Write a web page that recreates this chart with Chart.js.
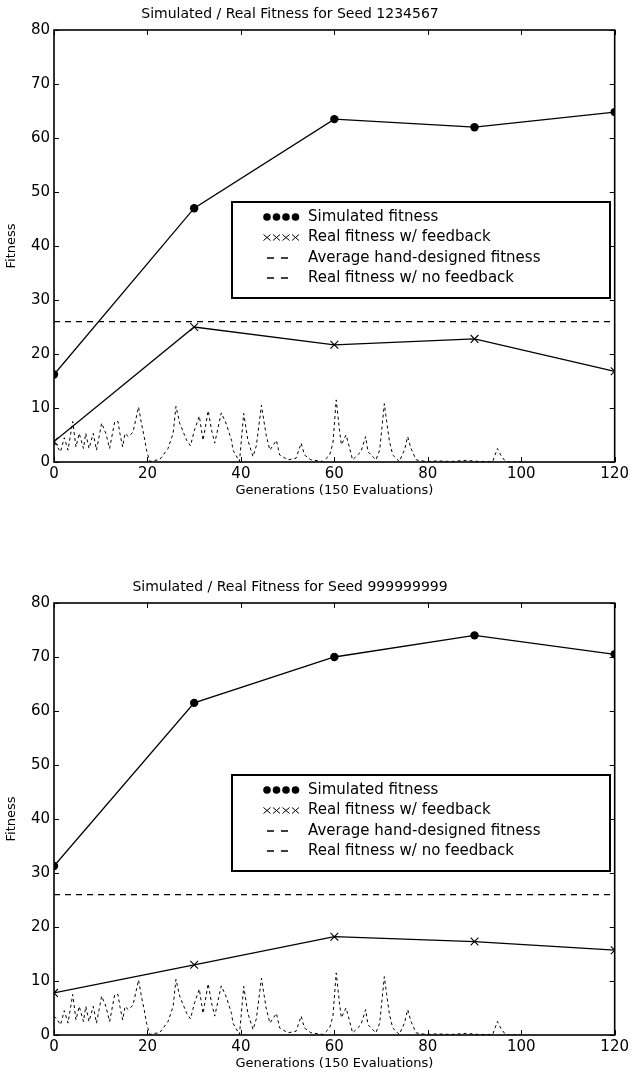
<!DOCTYPE html>
<html>
<head>
<meta charset="utf-8">
<script src="https://cdn.jsdelivr.net/npm/chart.js@4.4.0/dist/chart.umd.min.js"></script>
<style>
  body { margin: 0; background: #fff; }
  .box { position: absolute; left: 0; width: 632px; height: 500px; }
</style>
</head>
<body>
<div class="box" style="top:0"><canvas id="chart1"></canvas></div>
<div class="box" style="top:573px"><canvas id="chart2"></canvas></div>
<script>
// values
const generations = [0, 30, 60, 90, 120];
const simulated1 = [16.2, 47, 63.5, 62, 64.8];
const feedback1 = [3.8, 25, 21.7, 22.8, 16.8];
const simulated2 = [31.3, 61.5, 70, 74, 70.5];
const feedback2 = [7.8, 13, 18.2, 17.3, 15.7];
const handDesigned = 26;

// real fitness with no feedback (same trace in both plots)
const noFeedbackGens = [0, 0.7, 1.4, 2.2, 3.0, 4.0, 4.7, 5.4, 6.3, 6.8, 7.5, 8.4, 9.1, 10.2, 11.1,
  11.9, 13.0, 13.7, 14.1, 14.7, 15.2, 15.9, 16.9, 18.1, 18.7, 19.3, 19.8, 20.5, 21.5, 22.6,
  24.4, 25.5, 26.1, 26.9, 28.4, 29.2, 30.1, 31.1, 31.9, 33.0, 33.7, 34.4, 35.8, 36.9, 38.0,
  38.3, 39.7, 40.6, 41.5, 42.6, 43.3, 44.4, 45.4, 46.2, 47.6, 48.3, 50.1, 51.8, 52.9, 53.6,
  55.0, 57.6, 59.0, 59.7, 60.4, 61.1, 61.5, 62.5, 63.2, 63.9, 65.7, 66.7, 67.2, 68.9, 69.7,
  70.7, 71.2, 71.8, 72.5, 73.9, 75.0, 75.7, 76.4, 77.5, 79.6, 82, 85, 88, 91, 93.9,
  94.9, 95.6, 96.7, 100];
const noFeedbackValues = [3.5, 2.8, 1.9, 4.5, 2.2, 7.5, 2.8, 5.3, 2.5, 5.3, 2.5, 5.3, 2.2, 7.2, 5.3,
  2.5, 7.5, 7.5, 5.3, 2.8, 5.3, 4.7, 5.5, 10.2, 7.2, 4.7, 2.2, 0.1, 0.3, 0.4,
  2.5, 5.3, 10.3, 7.2, 4.0, 3.0, 6.0, 8.5, 4.0, 9.5, 6.0, 3.5, 9.1, 7.0, 4.0,
  2.2, 0.1, 9.0, 4.0, 1.0, 3.0, 10.5, 5.0, 2.2, 4.0, 1.3, 0.4, 0.7, 3.5, 1.3,
  0.4, 0.1, 1.3, 3.5, 11.5, 5.9, 3.2, 5.0, 2.8, 0.4, 1.9, 4.7, 1.9, 0.4, 2.2,
  10.8, 7.5, 3.8, 1.3, 0.1, 2.2, 4.7, 2.5, 0.4, 0.1, 0.2, 0.1, 0.3, 0.1, 0.1,
  2.5, 1.3, 0, 0];

const xTicks = [0, 20, 40, 60, 80, 100, 120];
const yTicks = [0, 10, 20, 30, 40, 50, 60, 70, 80];
const legendLabels = ['Simulated fitness', 'Real fitness w/ feedback',
  'Average hand-designed fitness', 'Real fitness w/ no feedback'];

const FONT = 'DejaVu Sans';

// title drawn by hand, it sits a bit left of the plot centre in the original
const plotTitle = {
  id: 'plotTitle',
  afterDraw(chart, args, opts) {
    const { ctx } = chart;
    ctx.save();
    ctx.fillStyle = '#000';
    ctx.font = '14px "' + FONT + '"';
    ctx.textAlign = 'center';
    ctx.textBaseline = 'middle';
    ctx.fillText(opts.text, opts.x, opts.y);
    ctx.restore();
  }
};

// frame + inward ticks like the old matplotlib look
const frameTicks = {
  id: 'frameTicks',
  afterDraw(chart) {
    const { ctx, chartArea: a, scales } = chart;
    ctx.save();
    ctx.strokeStyle = '#000';
    ctx.lineWidth = 1;
    ctx.beginPath();
    xTicks.forEach(v => {
      const px = Math.round(scales.x.getPixelForValue(v)) + 0.5;
      ctx.moveTo(px, a.bottom); ctx.lineTo(px, a.bottom - 5);
      ctx.moveTo(px, a.top); ctx.lineTo(px, a.top + 5);
    });
    yTicks.forEach(v => {
      const py = Math.round(scales.y.getPixelForValue(v)) + 0.5;
      ctx.moveTo(a.left, py); ctx.lineTo(a.left + 5, py);
      ctx.moveTo(a.right, py); ctx.lineTo(a.right - 5, py);
    });
    ctx.stroke();
    ctx.lineWidth = 1.6;
    ctx.strokeRect(a.left, a.top, a.right - a.left, a.bottom - a.top);
    ctx.restore();
  }
};

// boxed legend inside the plot
const legendBox = {
  id: 'legendBox',
  afterDraw(chart, args, opts) {
    const { ctx, chartArea: a } = chart;
    const x = a.left + opts.left, y = a.top + opts.top;
    ctx.save();
    ctx.fillStyle = '#fff';
    ctx.fillRect(x, y, opts.width, opts.height);
    ctx.strokeStyle = '#000';
    ctx.lineWidth = 2;
    ctx.strokeRect(x, y, opts.width, opts.height);
    const rows = [15, 35.5, 56, 76];
    ctx.fillStyle = '#000';
    ctx.lineWidth = 1;
    // row 1: four dots
    for (let i = 0; i < 4; i++) {
      ctx.beginPath();
      ctx.arc(x + 35 + i * 9.5, y + rows[0], 3.8, 0, Math.PI * 2);
      ctx.fill();
    }
    // row 2: four crosses
    ctx.beginPath();
    for (let i = 0; i < 4; i++) {
      const cx = x + 35 + i * 9.5, cy = y + rows[1];
      ctx.moveTo(cx - 3.5, cy - 3); ctx.lineTo(cx + 3.5, cy + 3);
      ctx.moveTo(cx - 3.5, cy + 3); ctx.lineTo(cx + 3.5, cy - 3);
    }
    ctx.stroke();
    // rows 3, 4: dashes
    ctx.lineWidth = 1.5;
    ctx.beginPath();
    [rows[2], rows[3]].forEach(r => {
      ctx.moveTo(x + 35, y + r); ctx.lineTo(x + 42, y + r);
      ctx.moveTo(x + 49, y + r); ctx.lineTo(x + 56, y + r);
    });
    ctx.stroke();
    ctx.font = '15px "' + FONT + '"';
    ctx.textBaseline = 'middle';
    legendLabels.forEach((t, i) => ctx.fillText(t, x + 76, y + rows[i]));
    ctx.restore();
  }
};

function makeChart(id, title, simulated, feedback, legendPos) {
  const ctx = document.getElementById(id).getContext('2d');
  return new Chart(ctx, {
    type: 'line',
    data: {
      datasets: [
        {
          label: legendLabels[0],
          data: generations.map((g, i) => ({ x: g, y: simulated[i] })),
          borderColor: '#000', backgroundColor: '#000', borderWidth: 1.3,
          pointStyle: 'circle', pointRadius: 4.2, pointBorderWidth: 0
        },
        {
          label: legendLabels[1],
          data: generations.map((g, i) => ({ x: g, y: feedback[i] })),
          borderColor: '#000', backgroundColor: '#000', borderWidth: 1.3,
          pointStyle: 'crossRot', pointRadius: 5.5, pointBorderWidth: 1.1
        },
        {
          label: legendLabels[2],
          data: [{ x: 0, y: handDesigned }, { x: 120, y: handDesigned }],
          borderColor: '#000', borderWidth: 1.2, borderDash: [6, 5], pointRadius: 0
        },
        {
          label: legendLabels[3],
          data: noFeedbackGens.map((g, i) => ({ x: g, y: noFeedbackValues[i] })),
          borderColor: '#000', borderWidth: 1, borderDash: [3, 3], pointRadius: 0
        }
      ]
    },
    options: {
      responsive: true,
      maintainAspectRatio: false,
      animation: false,
      layout: { padding: { left: 0, right: 16, top: 30, bottom: 0 } },
      plugins: {
        legend: { display: false },
        tooltip: { enabled: false },
        plotTitle: { text: title, x: 290, y: 14 },
        legendBox: legendPos
      },
      scales: {
        x: {
          type: 'linear', min: 0, max: 120,
          afterBuildTicks: s => { s.ticks = xTicks.map(v => ({ value: v })); },
          afterFit: s => { s.height = 38; },
          grid: { display: false, drawTicks: false },
          border: { display: false },
          ticks: { color: '#000', padding: 3, maxRotation: 0, font: { family: FONT, size: 15 } },
          title: {
            display: true, text: 'Generations (150 Evaluations)', color: '#000',
            font: { family: FONT, size: 13 }, padding: { top: 0, bottom: 2 }
          }
        },
        y: {
          min: 0, max: 80,
          afterBuildTicks: s => { s.ticks = yTicks.map(v => ({ value: v })); },
          afterFit: s => { s.width = 54; },
          grid: { display: false, drawTicks: false },
          border: { display: false },
          ticks: { color: '#000', padding: 4, font: { family: FONT, size: 15 } },
          title: {
            display: true, text: 'Fitness', color: '#000',
            font: { family: FONT, size: 13 }, padding: { top: 4, bottom: 0 }
          }
        }
      }
    },
    plugins: [frameTicks, legendBox, plotTitle]
  });
}

makeChart('chart1', 'Simulated / Real Fitness for Seed 1234567', simulated1, feedback1,
  { left: 178, top: 172, width: 378, height: 96 });
makeChart('chart2', 'Simulated / Real Fitness for Seed 999999999', simulated2, feedback2,
  { left: 178, top: 172, width: 378, height: 96 });
</script>
</body>
</html>
